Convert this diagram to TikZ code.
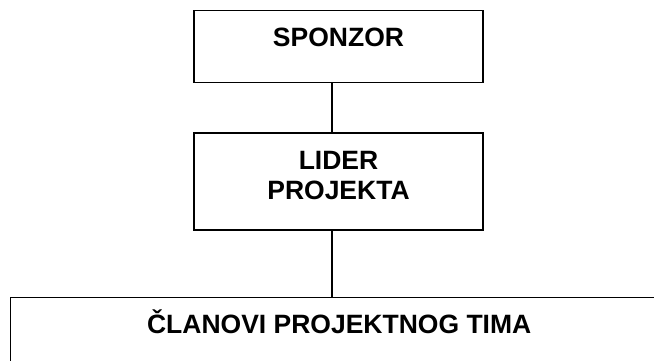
\documentclass[tikz,border=0pt]{standalone}
\usepackage{fontspec}
\setmainfont{Liberation Sans}
\usetikzlibrary{positioning}

\begin{document}
\begin{tikzpicture}[x=1pt,y=-1pt,line width=1.4pt,
  rolebox/.style={draw,minimum width=289pt,inner xsep=0pt,inner ysep=0pt,
    font=\fontsize{26.5}{30}\selectfont\bfseries,align=center}]
\useasboundingbox (0,0) rectangle (654,360);
\clip (0,0) rectangle (654,360);

% Project roles, top to bottom
\node[rolebox,anchor=north,text height=36pt,text depth=36pt] (sponzor) at (338.5,10) {SPONZOR};
\node[rolebox,below=49pt of sponzor,text height=66pt,text depth=31pt] (lider) {LIDER\\PROJEKTA};
\node[rolebox,anchor=north west,minimum width=657pt,text height=36pt,text depth=80pt] (tim) at (10,297) {ČLANOVI PROJEKTNOG TIMA};

% links, a little left of the middle
\draw ([xshift=-6.5pt]sponzor.south) -- ([xshift=-6.5pt]lider.north);
\draw ([xshift=-6.5pt]lider.south) -- ([xshift=-6.5pt]lider.south |- tim.north);

\end{tikzpicture}
\end{document}
